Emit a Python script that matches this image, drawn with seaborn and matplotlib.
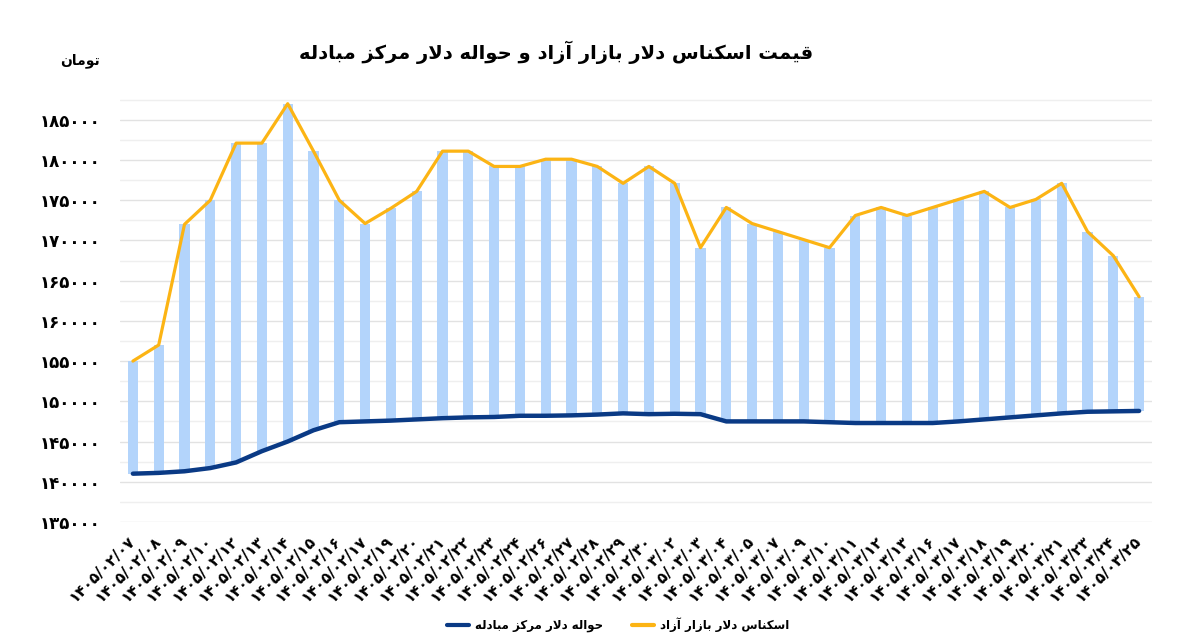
import numpy as np
import pandas as pd
import seaborn as sns
import matplotlib.pyplot as plt
from matplotlib.lines import Line2D

# data
dates = [
    "1405/02/07", "1405/02/08", "1405/02/09", "1405/02/10", "1405/02/12",
    "1405/02/13", "1405/02/14", "1405/02/15", "1405/02/16", "1405/02/17",
    "1405/02/19", "1405/02/20", "1405/02/21", "1405/02/22", "1405/02/23",
    "1405/02/24", "1405/02/26", "1405/02/27", "1405/02/28", "1405/02/29",
    "1405/02/30", "1405/03/02", "1405/03/03", "1405/03/04", "1405/03/05",
    "1405/03/07", "1405/03/09", "1405/03/10", "1405/03/11", "1405/03/12",
    "1405/03/13", "1405/03/16", "1405/03/17", "1405/03/18", "1405/03/19",
    "1405/03/20", "1405/03/21", "1405/03/23", "1405/03/24", "1405/03/25",
]
free_market = [
    155000, 157000, 172000, 175000, 182100, 182100, 187000, 181100, 175000, 172100,
    174000, 176100, 181100, 181100, 179200, 179200, 180100, 180100, 179200, 177100,
    179200, 177100, 169100, 174100, 172100, 171100, 170100, 169100, 173100, 174100,
    173100, 174100, 175100, 176100, 174100, 175100, 177100, 171100, 168100, 163000,
]
remittance = [
    141000, 141100, 141300, 141700, 142400, 143800, 145000, 146400, 147400, 147500,
    147600, 147750, 147900, 148000, 148050, 148200, 148200, 148250, 148350, 148500,
    148400, 148450, 148400, 147500, 147500, 147500, 147500, 147400, 147300, 147300,
    147300, 147300, 147500, 147750, 148000, 148250, 148500, 148700, 148750, 148800,
]
y_ticks = list(range(135000, 190000, 5000))

title = "قیمت اسکناس دلار بازار آزاد و حواله دلار مرکز مبادله"
unit = "تومان"
name_free = "اسکناس دلار بازار آزاد"
name_remit = "حواله دلار مرکز مبادله"

BAR = "#b3d4fb"
ORANGE = "#fcb414"
NAVY = "#0a3a85"

FA_DIGITS = str.maketrans("0123456789", "۰۱۲۳۴۵۶۷۸۹")

# minimal arabic shaping: (isolated, final, initial, medial)
FORMS = {
    "ا": ("\ufe8d", "\ufe8e", None, None),
    "آ": ("\ufe81", "\ufe82", None, None),
    "د": ("\ufea9", "\ufeaa", None, None),
    "ر": ("\ufead", "\ufeae", None, None),
    "ز": ("\ufeaf", "\ufeb0", None, None),
    "و": ("\ufeed", "\ufeee", None, None),
    "لا": ("\ufefb", "\ufefc", None, None),
    "لآ": ("\ufef5", "\ufef6", None, None),
    "ب": ("\ufe8f", "\ufe90", "\ufe91", "\ufe92"),
    "ت": ("\ufe95", "\ufe96", "\ufe97", "\ufe98"),
    "ح": ("\ufea1", "\ufea2", "\ufea3", "\ufea4"),
    "س": ("\ufeb1", "\ufeb2", "\ufeb3", "\ufeb4"),
    "ق": ("\ufed5", "\ufed6", "\ufed7", "\ufed8"),
    "ک": ("\ufb8e", "\ufb8f", "\ufb90", "\ufb91"),
    "ل": ("\ufedd", "\ufede", "\ufedf", "\ufee0"),
    "م": ("\ufee1", "\ufee2", "\ufee3", "\ufee4"),
    "ن": ("\ufee5", "\ufee6", "\ufee7", "\ufee8"),
    "ه": ("\ufee9", "\ufeea", "\ufeeb", "\ufeec"),
    "ی": ("\ufbfc", "\ufbfd", "\ufbfe", "\ufbff"),
}


def shape(text):
    toks = []
    i = 0
    while i < len(text):
        if text[i] == "ل" and i + 1 < len(text) and text[i + 1] in "اآ":
            toks.append(text[i:i + 2])
            i += 2
        else:
            toks.append(text[i])
            i += 1
    out = []
    for k, t in enumerate(toks):
        if t not in FORMS:
            out.append(t)
            continue
        iso, fin, ini, med = FORMS[t]
        prev = k > 0 and toks[k - 1] in FORMS and FORMS[toks[k - 1]][2] is not None
        nxt = ini is not None and k + 1 < len(toks) and toks[k + 1] in FORMS
        if prev and nxt:
            out.append(med)
        elif prev:
            out.append(fin)
        elif nxt:
            out.append(ini)
        else:
            out.append(iso)
    return "".join(reversed(out))


def main():
    sns.set_theme(style="white")
    plt.rcParams["font.family"] = ["DejaVu Sans"]
    plt.rcParams["text.color"] = "black"
    plt.rcParams["xtick.color"] = "black"
    plt.rcParams["ytick.color"] = "black"

    labels = [d.translate(FA_DIGITS) for d in dates]
    df = pd.DataFrame({
        "date": labels,
        "free": free_market,
        "remit": remittance,
    })
    df["spread"] = df["free"] - df["remit"]

    fig = plt.figure(figsize=(12, 6.42), dpi=100)
    ax = fig.add_axes([0.1, 0.187, 0.86, 0.664])

    sns.barplot(data=df, x="date", y="spread", bottom=df["remit"].to_numpy(),
                color=BAR, saturation=1, width=0.4, errorbar=None,
                linewidth=0, ax=ax, zorder=2)
    sns.lineplot(data=df, x="date", y="free", sort=False, color=ORANGE,
                 lw=2.3, ax=ax, zorder=3)
    sns.lineplot(data=df, x="date", y="remit", sort=False, color=NAVY,
                 lw=3.2, ax=ax, zorder=3)

    ax.set_xlim(-0.5, len(dates) - 0.5)
    ax.set_ylim(135000, 188000)
    ax.set_yticks(y_ticks)
    ax.set_yticklabels([str(v).translate(FA_DIGITS) for v in y_ticks],
                       fontweight="bold", fontsize=12, color="black")
    ax.set_yticks([v + 2500 for v in y_ticks], minor=True)
    ax.grid(axis="y", which="major", color="#e2e2e2", lw=1, zorder=0)
    ax.grid(axis="y", which="minor", color="#efefef", lw=1, zorder=0)
    ax.set_xticks(range(len(labels)))
    ax.set_xticklabels(labels)
    plt.setp(ax.get_xticklabels(), rotation=45, ha="right", va="center",
             rotation_mode="anchor", fontweight="bold", fontsize=11,
             color="black")
    ax.tick_params(axis="both", which="both", length=0)
    ax.tick_params(axis="y", pad=14)
    ax.tick_params(axis="x", pad=12)
    ax.set_xlabel("")
    ax.set_ylabel("")
    sns.despine(ax=ax, left=True, bottom=True)

    fig.text(0.463, 0.919, shape(title), ha="center", va="center",
             fontsize=14, fontweight="bold", color="black")
    fig.text(0.067, 0.905, shape(unit), ha="center", va="center",
             fontsize=10, fontweight="bold", color="black")

    handles = [Line2D([], [], color=NAVY, lw=3), Line2D([], [], color=ORANGE, lw=3)]
    fig.legend(handles, [shape(name_remit), shape(name_free)], ncol=2,
               loc="center", bbox_to_anchor=(0.515, 0.027), frameon=False,
               prop={"weight": "bold", "size": 8.5}, handlelength=1.9,
               columnspacing=2.4, handletextpad=0.5, labelcolor="black")

    fig.savefig("out.png", dpi=100)


if __name__ == "__main__":
    main()
